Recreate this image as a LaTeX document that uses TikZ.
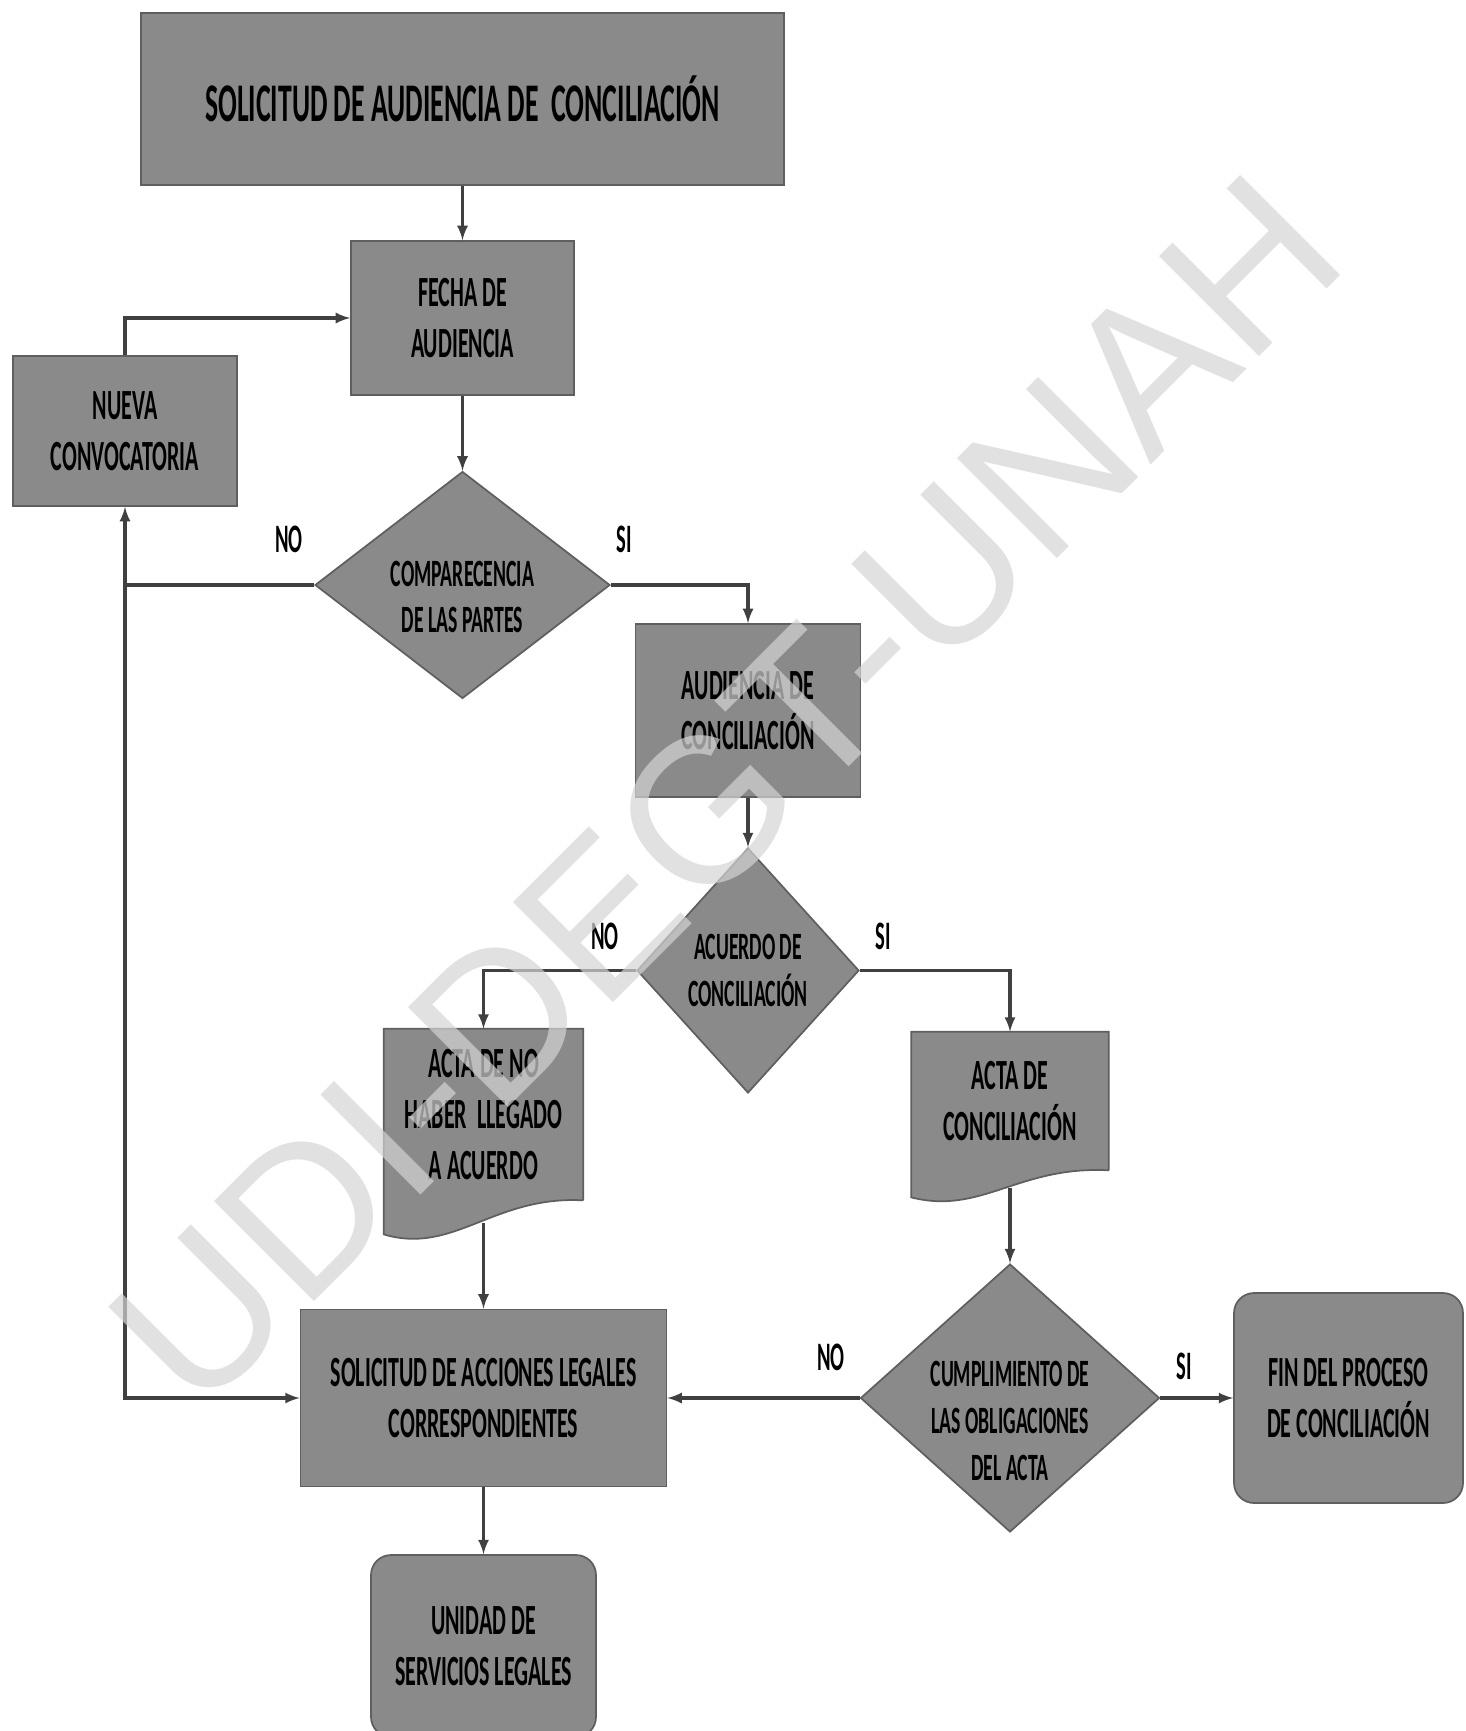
\documentclass[tikz,border=0pt]{standalone}
\usepackage{fontspec}
\setmainfont{Carlito}[FakeStretch=0.51]
\newfontfamily\wmfont{Liberation Sans}
\usetikzlibrary{shapes.geometric,positioning}
\pgfdeclarelayer{background}
\pgfsetlayers{background,main}
\definecolor{boxgray}{RGB}{138,138,138}
\definecolor{edgegray}{RGB}{95,95,95}
\definecolor{linegray}{RGB}{64,64,64}

\begin{document}
\begin{tikzpicture}[x=0.02cm,y=-0.02cm,
  box/.style={draw=edgegray,fill=boxgray,line width=1pt,rectangle,align=center,inner sep=2pt,font=\bfseries\fontsize{24.5}{29}\selectfont},
  endbox/.style={box,rounded corners=0.4cm},
  decision/.style={box,diamond,inner sep=0pt},
  decisiontext/.style={align=center,font=\bfseries\fontsize{22}{26.5}\selectfont},
  docbox/.style={rectangle,align=center,inner sep=0pt,font=\bfseries\fontsize{24.5}{29}\selectfont},
  answer/.style={font=\bfseries\fontsize{23}{26}\selectfont},
  flow/.style={draw=linegray,line width=1.8pt,-latex}]
\useasboundingbox (0,0) rectangle (1465,1731);

\node[box,minimum width=12.86cm,minimum height=3.44cm,font=\bfseries\fontsize{31}{36}\selectfont] (solicitud) at (462.5,99) {SOLICITUD DE AUDIENCIA DE~ CONCILIACIÓN};
\node[box,minimum width=4.46cm,minimum height=3.08cm] (fecha) at (462.5,318) {FECHA DE\\AUDIENCIA};
\node[box,minimum width=4.48cm,minimum height=3cm] (nueva) at (125,431) {NUEVA\\CONVOCATORIA};
\node[decision,minimum width=5.9cm,minimum height=4.54cm,label={[decisiontext,yshift=-0.24cm]center:{COMPARECENCIA\\DE LAS PARTES}}] (comp) at (462.5,585) {};
\node[box,minimum width=4.5cm,minimum height=3.46cm] (aud) at (748,710.5) {AUDIENCIA DE\\CONCILIACIÓN};
\node[decision,minimum width=4.44cm,minimum height=4.9cm,label={[decisiontext]center:{ACUERDO DE\\CONCILIACIÓN}}] (acuerdo) at (748,970.5) {};
\node[docbox,minimum width=3.98cm,minimum height=3.42cm] (actano) at (483.5,1114.5) {ACTA DE NO\\HABER~ LLEGADO\\A ACUERDO};
\node[docbox,minimum width=3.94cm,minimum height=2.76cm] (actasi) at (1010,1101) {ACTA DE\\CONCILIACIÓN};
\node[decision,minimum width=5.98cm,minimum height=5.36cm,label={[decisiontext,yshift=-0.46cm]center:{CUMPLIMIENTO DE\\LAS OBLIGACIONES\\DEL ACTA}}] (cumple) at (1010,1398) {};
\node[box,minimum width=7.32cm,minimum height=3.54cm] (sal) at (483.5,1398) {SOLICITUD DE ACCIONES LEGALES\\CORRESPONDIENTES};
\node[endbox,minimum width=4.58cm,minimum height=4.2cm] (fin) at (1348.5,1398) {FIN DEL PROCESO\\DE CONCILIACIÓN};
\node[endbox,minimum width=4.5cm,minimum height=3.64cm] (unidad) at (483.5,1646) {UNIDAD DE\\SERVICIOS LEGALES};

% hojas de acta
\begin{pgfonlayer}{background}
\foreach \n/\drop/\dip in {actano/0.68/1.1,actasi/0.54/0.9} {
  \filldraw[draw=edgegray,fill=boxgray,line width=1pt] (\n.south east) -- (\n.north east) -- (\n.north west) -- ([yshift=-\drop cm]\n.south west)
    .. controls ([xshift=1.4cm,yshift=-\dip cm]\n.south west) and ([xshift=-1.8cm,yshift=0.1cm]\n.south east) .. (\n.south east);
}
\end{pgfonlayer}

\node[answer] (comp-no) at (289,539) {NO};
\node[answer] (comp-si) at (624,539) {SI};
\node[answer] (acuerdo-no) at (605,936) {NO};
\node[answer] (acuerdo-si) at (883,936) {SI};
\node[answer] (cumple-no) at (831,1357) {NO};
\node[answer] (cumple-si) at (1184,1366) {SI};

\foreach \a/\b in {solicitud/fecha,fecha/comp,aud/acuerdo,cumple/sal,cumple/fin,sal/unidad} {
  \draw[flow] (\a) -- (\b);
}
\draw[flow] (comp.west) -| (nueva.south);
\draw[flow] (nueva.south |- comp.west) |- (sal.west);
\draw[flow] (nueva.north) |- (fecha.west);
\draw[flow] (comp.east) -| (aud.north);
\draw[flow] (acuerdo.west) -| (actano.north);
\draw[flow] (acuerdo.east) -| (actasi.north);
\draw[flow] ([yshift=-0.45cm]actano.south) -- (sal.north);
\draw[flow] ([yshift=-0.36cm]actasi.south) -- (cumple.north);

\node[rotate=45,text=black!17,opacity=0.7,font=\wmfont\fontsize{117}{117}\selectfont] (marca) at (725,791) {UDI-DEGT-UNAH};
\end{tikzpicture}
\end{document}
